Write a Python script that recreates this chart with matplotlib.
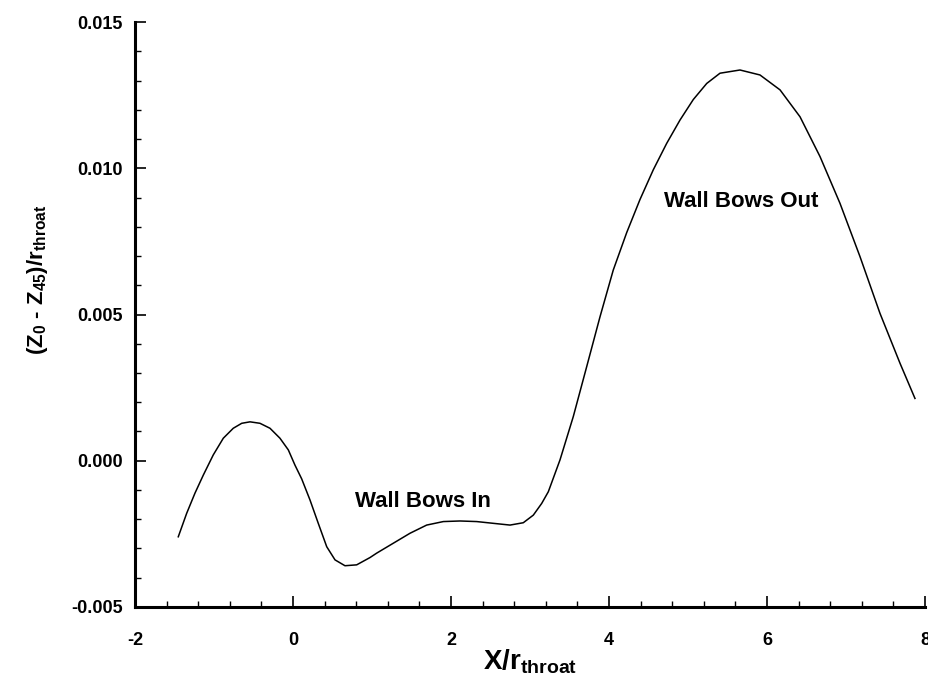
import matplotlib
matplotlib.use("Agg")
import matplotlib.pyplot as plt
from matplotlib.ticker import MultipleLocator, FormatStrFormatter

plt.rcParams['font.family'] = ['Liberation Sans', 'DejaVu Sans']
plt.rcParams['mathtext.fontset'] = 'custom'
plt.rcParams['mathtext.rm'] = 'Liberation Sans:bold'
plt.rcParams['mathtext.it'] = 'Liberation Sans:bold'
plt.rcParams['mathtext.bf'] = 'Liberation Sans:bold'
plt.rcParams['mathtext.default'] = 'rm'

x_vals = [-1.452, -1.346, -1.241, -1.135, -1.009, -0.882, -0.756, -0.649, -0.544, -0.418,
          -0.291, -0.165, -0.059, 0.025, 0.110, 0.215, 0.320, 0.427, 0.532, 0.658,
          0.806, 0.975, 1.059, 1.270, 1.481, 1.692, 1.903, 2.114, 2.325, 2.535,
          2.747, 2.915, 3.042, 3.148, 3.232, 3.380, 3.548, 3.718, 3.886, 4.054,
          4.224, 4.392, 4.561, 4.730, 4.899, 5.067, 5.237, 5.405, 5.658, 5.911,
          6.165, 6.418, 6.671, 6.924, 7.177, 7.430, 7.684, 7.873]
y_vals = [-0.00260, -0.00180, -0.00111, -0.00049, 0.00020, 0.00077, 0.00111, 0.00128, 0.00133, 0.00128,
          0.00111, 0.00077, 0.00037, -0.00015, -0.00062, -0.00134, -0.00214, -0.00294, -0.00339, -0.00359,
          -0.00356, -0.00331, -0.00316, -0.00282, -0.00248, -0.00220, -0.00208, -0.00206, -0.00208, -0.00214,
          -0.00220, -0.00212, -0.00186, -0.00146, -0.00106, 0.00003, 0.00151, 0.00322, 0.00492, 0.00652,
          0.00780, 0.00893, 0.00995, 0.01085, 0.01165, 0.01235, 0.01290, 0.01325, 0.01336, 0.01319,
          0.01268, 0.01176, 0.01040, 0.00880, 0.00698, 0.00504, 0.00333, 0.00213]

annotations = [("Wall Bows In", 1.646, -0.00141), ("Wall Bows Out", 5.67, 0.00885)]

fig = plt.figure(figsize=(9.29, 6.8), dpi=100)
ax = fig.add_axes([0.1453, 0.1074, 0.8504, 0.8602])
ax.plot(x_vals, y_vals, color='black', lw=1.1, solid_joinstyle='round')
ax.set_xlim(-2, 8)
ax.set_ylim(-0.005, 0.015)

for label, lx, ly in annotations:
    ax.text(lx, ly, label, ha='center', va='center', fontsize=16,
            fontweight='bold', color='black')

for s in ['top', 'right']:
    ax.spines[s].set_visible(False)
for s in ['left', 'bottom']:
    ax.spines[s].set_linewidth(2.2)

ax.xaxis.set_major_locator(MultipleLocator(2))
ax.xaxis.set_minor_locator(MultipleLocator(0.4))
ax.yaxis.set_major_locator(MultipleLocator(0.005))
ax.yaxis.set_minor_locator(MultipleLocator(0.001))
ax.yaxis.set_major_formatter(FormatStrFormatter('%.3f'))
ax.xaxis.set_major_formatter(FormatStrFormatter('%d'))

ax.tick_params(which='major', direction='in', length=8, width=1.2)
ax.tick_params(which='minor', direction='in', length=4, width=1.0)
ax.tick_params(axis='x', which='major', pad=18, labelsize=13)
ax.tick_params(axis='y', which='major', pad=9, labelsize=13)
for lab in ax.get_xticklabels() + ax.get_yticklabels():
    lab.set_fontweight('bold')

ax.set_xlabel(r"X/r$_{\mathregular{throat}}$", fontsize=20, fontweight='bold')
ax.set_ylabel(r"(Z$_0$ - Z$_{45}$)/r$_{\mathregular{throat}}$", fontsize=16, fontweight='bold')
ax.xaxis.set_label_coords(0.5, -0.07)
ax.yaxis.set_label_coords(-0.108, 0.56)

fig.savefig("out.png", dpi=100)
